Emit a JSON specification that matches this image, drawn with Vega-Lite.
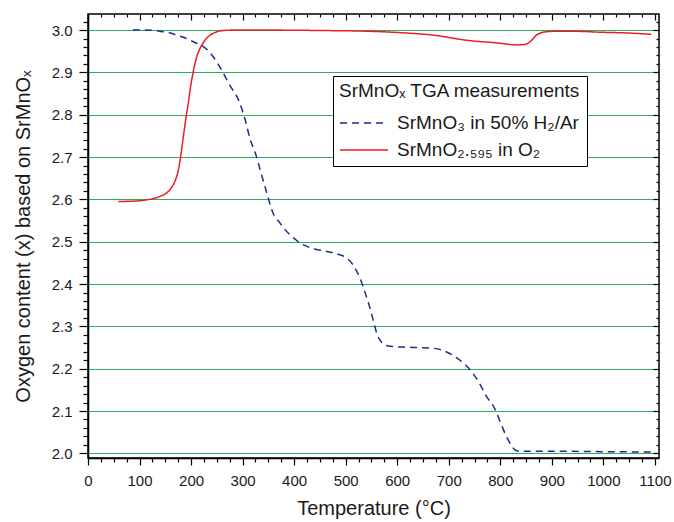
{
  "$schema": "https://vega.github.io/schema/vega-lite/v6.json",
  "width": 571,
  "height": 444,
  "autosize": {"type": "none"},
  "padding": {"left": 88, "top": 14, "right": 15, "bottom": 64},
  "background": "white",
  "config": {
    "view": {"stroke": "black", "strokeWidth": 1.5},
    "font": "Liberation Sans"
  },
  "datasets": {
    "tga": [
      {"T": 87, "O": 3.000, "series": "SrMnO₃ in 50% H₂/Ar"},
      {"T": 110, "O": 3.000, "series": "SrMnO₃ in 50% H₂/Ar"},
      {"T": 130, "O": 2.999, "series": "SrMnO₃ in 50% H₂/Ar"},
      {"T": 146, "O": 2.996, "series": "SrMnO₃ in 50% H₂/Ar"},
      {"T": 160, "O": 2.993, "series": "SrMnO₃ in 50% H₂/Ar"},
      {"T": 172, "O": 2.988, "series": "SrMnO₃ in 50% H₂/Ar"},
      {"T": 185, "O": 2.983, "series": "SrMnO₃ in 50% H₂/Ar"},
      {"T": 198, "O": 2.976, "series": "SrMnO₃ in 50% H₂/Ar"},
      {"T": 211, "O": 2.969, "series": "SrMnO₃ in 50% H₂/Ar"},
      {"T": 224, "O": 2.961, "series": "SrMnO₃ in 50% H₂/Ar"},
      {"T": 243, "O": 2.937, "series": "SrMnO₃ in 50% H₂/Ar"},
      {"T": 259, "O": 2.906, "series": "SrMnO₃ in 50% H₂/Ar"},
      {"T": 275, "O": 2.870, "series": "SrMnO₃ in 50% H₂/Ar"},
      {"T": 292, "O": 2.835, "series": "SrMnO₃ in 50% H₂/Ar"},
      {"T": 305, "O": 2.788, "series": "SrMnO₃ in 50% H₂/Ar"},
      {"T": 314, "O": 2.745, "series": "SrMnO₃ in 50% H₂/Ar"},
      {"T": 327, "O": 2.701, "series": "SrMnO₃ in 50% H₂/Ar"},
      {"T": 334, "O": 2.670, "series": "SrMnO₃ in 50% H₂/Ar"},
      {"T": 347, "O": 2.615, "series": "SrMnO₃ in 50% H₂/Ar"},
      {"T": 359, "O": 2.568, "series": "SrMnO₃ in 50% H₂/Ar"},
      {"T": 372, "O": 2.545, "series": "SrMnO₃ in 50% H₂/Ar"},
      {"T": 388, "O": 2.521, "series": "SrMnO₃ in 50% H₂/Ar"},
      {"T": 400, "O": 2.508, "series": "SrMnO₃ in 50% H₂/Ar"},
      {"T": 411, "O": 2.497, "series": "SrMnO₃ in 50% H₂/Ar"},
      {"T": 425, "O": 2.489, "series": "SrMnO₃ in 50% H₂/Ar"},
      {"T": 440, "O": 2.483, "series": "SrMnO₃ in 50% H₂/Ar"},
      {"T": 463, "O": 2.477, "series": "SrMnO₃ in 50% H₂/Ar"},
      {"T": 489, "O": 2.469, "series": "SrMnO₃ in 50% H₂/Ar"},
      {"T": 500, "O": 2.463, "series": "SrMnO₃ in 50% H₂/Ar"},
      {"T": 514, "O": 2.446, "series": "SrMnO₃ in 50% H₂/Ar"},
      {"T": 529, "O": 2.410, "series": "SrMnO₃ in 50% H₂/Ar"},
      {"T": 539, "O": 2.375, "series": "SrMnO₃ in 50% H₂/Ar"},
      {"T": 547, "O": 2.344, "series": "SrMnO₃ in 50% H₂/Ar"},
      {"T": 554, "O": 2.312, "series": "SrMnO₃ in 50% H₂/Ar"},
      {"T": 561, "O": 2.281, "series": "SrMnO₃ in 50% H₂/Ar"},
      {"T": 570, "O": 2.262, "series": "SrMnO₃ in 50% H₂/Ar"},
      {"T": 579, "O": 2.255, "series": "SrMnO₃ in 50% H₂/Ar"},
      {"T": 595, "O": 2.252, "series": "SrMnO₃ in 50% H₂/Ar"},
      {"T": 612, "O": 2.251, "series": "SrMnO₃ in 50% H₂/Ar"},
      {"T": 640, "O": 2.250, "series": "SrMnO₃ in 50% H₂/Ar"},
      {"T": 663, "O": 2.249, "series": "SrMnO₃ in 50% H₂/Ar"},
      {"T": 689, "O": 2.243, "series": "SrMnO₃ in 50% H₂/Ar"},
      {"T": 715, "O": 2.226, "series": "SrMnO₃ in 50% H₂/Ar"},
      {"T": 741, "O": 2.198, "series": "SrMnO₃ in 50% H₂/Ar"},
      {"T": 757, "O": 2.171, "series": "SrMnO₃ in 50% H₂/Ar"},
      {"T": 773, "O": 2.135, "series": "SrMnO₃ in 50% H₂/Ar"},
      {"T": 790, "O": 2.104, "series": "SrMnO₃ in 50% H₂/Ar"},
      {"T": 802, "O": 2.068, "series": "SrMnO₃ in 50% H₂/Ar"},
      {"T": 813, "O": 2.037, "series": "SrMnO₃ in 50% H₂/Ar"},
      {"T": 821, "O": 2.020, "series": "SrMnO₃ in 50% H₂/Ar"},
      {"T": 828, "O": 2.009, "series": "SrMnO₃ in 50% H₂/Ar"},
      {"T": 838, "O": 2.005, "series": "SrMnO₃ in 50% H₂/Ar"},
      {"T": 870, "O": 2.005, "series": "SrMnO₃ in 50% H₂/Ar"},
      {"T": 903, "O": 2.005, "series": "SrMnO₃ in 50% H₂/Ar"},
      {"T": 1000, "O": 2.004, "series": "SrMnO₃ in 50% H₂/Ar"},
      {"T": 1096, "O": 2.003, "series": "SrMnO₃ in 50% H₂/Ar"},
      {"T": 59, "O": 2.595, "series": "SrMnO₂.₅₉₅ in O₂"},
      {"T": 90, "O": 2.596, "series": "SrMnO₂.₅₉₅ in O₂"},
      {"T": 114, "O": 2.599, "series": "SrMnO₂.₅₉₅ in O₂"},
      {"T": 130, "O": 2.603, "series": "SrMnO₂.₅₉₅ in O₂"},
      {"T": 140, "O": 2.607, "series": "SrMnO₂.₅₉₅ in O₂"},
      {"T": 150, "O": 2.613, "series": "SrMnO₂.₅₉₅ in O₂"},
      {"T": 159, "O": 2.623, "series": "SrMnO₂.₅₉₅ in O₂"},
      {"T": 166, "O": 2.636, "series": "SrMnO₂.₅₉₅ in O₂"},
      {"T": 172, "O": 2.654, "series": "SrMnO₂.₅₉₅ in O₂"},
      {"T": 176, "O": 2.673, "series": "SrMnO₂.₅₉₅ in O₂"},
      {"T": 179, "O": 2.695, "series": "SrMnO₂.₅₉₅ in O₂"},
      {"T": 182, "O": 2.720, "series": "SrMnO₂.₅₉₅ in O₂"},
      {"T": 185, "O": 2.748, "series": "SrMnO₂.₅₉₅ in O₂"},
      {"T": 188, "O": 2.775, "series": "SrMnO₂.₅₉₅ in O₂"},
      {"T": 191, "O": 2.800, "series": "SrMnO₂.₅₉₅ in O₂"},
      {"T": 195, "O": 2.830, "series": "SrMnO₂.₅₉₅ in O₂"},
      {"T": 198, "O": 2.858, "series": "SrMnO₂.₅₉₅ in O₂"},
      {"T": 204, "O": 2.900, "series": "SrMnO₂.₅₉₅ in O₂"},
      {"T": 211, "O": 2.937, "series": "SrMnO₂.₅₉₅ in O₂"},
      {"T": 216, "O": 2.953, "series": "SrMnO₂.₅₉₅ in O₂"},
      {"T": 221, "O": 2.965, "series": "SrMnO₂.₅₉₅ in O₂"},
      {"T": 229, "O": 2.979, "series": "SrMnO₂.₅₉₅ in O₂"},
      {"T": 237, "O": 2.988, "series": "SrMnO₂.₅₉₅ in O₂"},
      {"T": 246, "O": 2.994, "series": "SrMnO₂.₅₉₅ in O₂"},
      {"T": 256, "O": 2.998, "series": "SrMnO₂.₅₉₅ in O₂"},
      {"T": 282, "O": 3.000, "series": "SrMnO₂.₅₉₅ in O₂"},
      {"T": 350, "O": 3.000, "series": "SrMnO₂.₅₉₅ in O₂"},
      {"T": 450, "O": 2.999, "series": "SrMnO₂.₅₉₅ in O₂"},
      {"T": 550, "O": 2.997, "series": "SrMnO₂.₅₉₅ in O₂"},
      {"T": 605, "O": 2.994, "series": "SrMnO₂.₅₉₅ in O₂"},
      {"T": 670, "O": 2.988, "series": "SrMnO₂.₅₉₅ in O₂"},
      {"T": 735, "O": 2.976, "series": "SrMnO₂.₅₉₅ in O₂"},
      {"T": 799, "O": 2.969, "series": "SrMnO₂.₅₉₅ in O₂"},
      {"T": 832, "O": 2.965, "series": "SrMnO₂.₅₉₅ in O₂"},
      {"T": 848, "O": 2.966, "series": "SrMnO₂.₅₉₅ in O₂"},
      {"T": 855, "O": 2.970, "series": "SrMnO₂.₅₉₅ in O₂"},
      {"T": 861, "O": 2.976, "series": "SrMnO₂.₅₉₅ in O₂"},
      {"T": 866, "O": 2.983, "series": "SrMnO₂.₅₉₅ in O₂"},
      {"T": 870, "O": 2.988, "series": "SrMnO₂.₅₉₅ in O₂"},
      {"T": 876, "O": 2.992, "series": "SrMnO₂.₅₉₅ in O₂"},
      {"T": 883, "O": 2.995, "series": "SrMnO₂.₅₉₅ in O₂"},
      {"T": 903, "O": 2.997, "series": "SrMnO₂.₅₉₅ in O₂"},
      {"T": 950, "O": 2.997, "series": "SrMnO₂.₅₉₅ in O₂"},
      {"T": 993, "O": 2.995, "series": "SrMnO₂.₅₉₅ in O₂"},
      {"T": 1050, "O": 2.993, "series": "SrMnO₂.₅₉₅ in O₂"},
      {"T": 1093, "O": 2.990, "series": "SrMnO₂.₅₉₅ in O₂"}
    ]
  },
  "data": {"name": "tga"},
  "resolve": {"axis": {"x": "independent", "y": "independent"}},
  "layer": [
    {
      "mark": {"type": "line", "strokeWidth": 1.5, "interpolate": "monotone"},
      "encoding": {
        "x": {
          "field": "T", "type": "quantitative",
          "scale": {"domain": [0, 1108], "nice": false, "zero": false},
          "axis": {
            "orient": "bottom",
            "title": "Temperature (°C)",
            "values": [0,25,50,75,100,125,150,175,200,225,250,275,300,325,350,375,400,425,450,475,500,525,550,575,600,625,650,675,700,725,750,775,800,825,850,875,900,925,950,975,1000,1025,1050,1075,1100],
            "format": "d",
            "labelExpr": "datum.value % 100 === 0 ? datum.label : ''",
            "tickSize": {"condition": {"test": "datum.value % 100 === 0", "value": 7}, "value": 4},
            "tickColor": "black",
            "tickWidth": 1.2,
            "grid": false,
            "domain": true,
            "domainColor": "black",
            "domainWidth": 1.5,
            "labelFont": "Liberation Sans",
            "labelFontSize": 15,
            "labelColor": "#1a1a1a",
            "labelPadding": 8,
            "labelOverlap": false,
            "labelFlush": false,
            "titleFont": "Liberation Sans",
            "titleFontSize": 20,
            "titleFontWeight": "normal",
            "titleColor": "#1a1a1a",
            "titlePadding": 10
          }
        },
        "y": {
          "field": "O", "type": "quantitative",
          "scale": {"domain": [1.989, 3.038], "nice": false, "zero": false},
          "axis": {
            "orient": "left",
            "title": "Oxygen content (x) based on SrMnOₓ",
            "values": [2.00,2.02,2.04,2.06,2.08,2.10,2.12,2.14,2.16,2.18,2.20,2.22,2.24,2.26,2.28,2.30,2.32,2.34,2.36,2.38,2.40,2.42,2.44,2.46,2.48,2.50,2.52,2.54,2.56,2.58,2.60,2.62,2.64,2.66,2.68,2.70,2.72,2.74,2.76,2.78,2.80,2.82,2.84,2.86,2.88,2.90,2.92,2.94,2.96,2.98,3.00,3.02],
            "labelExpr": "abs(datum.value*10 - round(datum.value*10)) < 0.01 ? format(datum.value, '.1f') : ''",
            "tickSize": {"condition": {"test": "abs(datum.value*10 - round(datum.value*10)) < 0.01", "value": 9}, "value": 5},
            "tickColor": "black",
            "tickWidth": 1.2,
            "grid": true,
            "gridColor": "#2caf5c",
            "gridWidth": 1,
            "gridOpacity": {"condition": {"test": "abs(datum.value*10 - round(datum.value*10)) < 0.01", "value": 1}, "value": 0},
            "domain": true,
            "domainColor": "black",
            "domainWidth": 1.5,
            "labelFont": "Liberation Sans",
            "labelFontSize": 15,
            "labelColor": "#1a1a1a",
            "labelPadding": 7,
            "labelOverlap": false,
            "labelFlush": false,
            "titleFont": "Liberation Sans",
            "titleFontSize": 20,
            "titleFontWeight": "normal",
            "titleColor": "#1a1a1a",
            "titlePadding": 18
          }
        },
        "color": {
          "field": "series", "type": "nominal",
          "scale": {"domain": ["SrMnO₃ in 50% H₂/Ar", "SrMnO₂.₅₉₅ in O₂"], "range": ["#1f2a8c", "#ec1c24"]},
          "legend": {
            "title": "SrMnOₓ TGA measurements",
            "orient": "none",
            "legendX": 245,
            "legendY": 62,
            "direction": "vertical",
            "fillColor": "white",
            "strokeColor": "black",
            "padding": 6,
            "cornerRadius": 0,
            "symbolType": "M-1,0L3,0",
            "symbolSize": 576,
            "symbolStrokeWidth": 1.5,
            "labelFont": "Liberation Sans",
            "labelFontSize": 19,
            "labelColor": "#1a1a1a",
            "labelOffset": 32,
            "labelLimit": 400,
            "rowPadding": 4,
            "titleFont": "Liberation Sans",
            "titleFontSize": 19,
            "titleFontWeight": "normal",
            "titleColor": "#1a1a1a",
            "titlePadding": 9,
            "titleLimit": 400
          }
        },
        "strokeDash": {
          "field": "series", "type": "nominal",
          "scale": {"domain": ["SrMnO₃ in 50% H₂/Ar", "SrMnO₂.₅₉₅ in O₂"], "range": [[7, 5], [1, 0]]},
          "legend": {
            "title": "SrMnOₓ TGA measurements",
            "orient": "none",
            "legendX": 245,
            "legendY": 62,
            "direction": "vertical",
            "fillColor": "white",
            "strokeColor": "black",
            "padding": 6,
            "cornerRadius": 0,
            "symbolType": "M-1,0L3,0",
            "symbolSize": 576,
            "symbolStrokeWidth": 1.5,
            "labelFont": "Liberation Sans",
            "labelFontSize": 19,
            "labelColor": "#1a1a1a",
            "labelOffset": 32,
            "labelLimit": 400,
            "rowPadding": 4,
            "titleFont": "Liberation Sans",
            "titleFontSize": 19,
            "titleFontWeight": "normal",
            "titleColor": "#1a1a1a",
            "titlePadding": 9,
            "titleLimit": 400
          }
        }
      }
    },
    {
      "mark": {"type": "line", "opacity": 0},
      "encoding": {
        "x": {
          "field": "T", "type": "quantitative",
          "scale": {"domain": [0, 1108], "nice": false, "zero": false},
          "axis": {
            "orient": "top",
            "title": null,
            "labels": false,
            "domain": false,
            "grid": false,
            "values": [0,25,50,75,100,125,150,175,200,225,250,275,300,325,350,375,400,425,450,475,500,525,550,575,600,625,650,675,700,725,750,775,800,825,850,875,900,925,950,975,1000,1025,1050,1075,1100],
            "tickSize": {"condition": {"test": "datum.value % 100 === 0", "value": -6}, "value": -3},
            "tickColor": "black",
            "tickWidth": 1.2
          }
        },
        "y": {
          "field": "O", "type": "quantitative",
          "scale": {"domain": [1.989, 3.038], "nice": false, "zero": false},
          "axis": {
            "orient": "right",
            "title": null,
            "labels": false,
            "domain": false,
            "grid": false,
            "values": [2.00,2.02,2.04,2.06,2.08,2.10,2.12,2.14,2.16,2.18,2.20,2.22,2.24,2.26,2.28,2.30,2.32,2.34,2.36,2.38,2.40,2.42,2.44,2.46,2.48,2.50,2.52,2.54,2.56,2.58,2.60,2.62,2.64,2.66,2.68,2.70,2.72,2.74,2.76,2.78,2.80,2.82,2.84,2.86,2.88,2.90,2.92,2.94,2.96,2.98,3.00,3.02],
            "tickSize": {"condition": {"test": "abs(datum.value*10 - round(datum.value*10)) < 0.01", "value": -6}, "value": -3},
            "tickColor": "black",
            "tickWidth": 1.2
          }
        },
        "detail": {"field": "series", "type": "nominal"}
      }
    }
  ]
}
